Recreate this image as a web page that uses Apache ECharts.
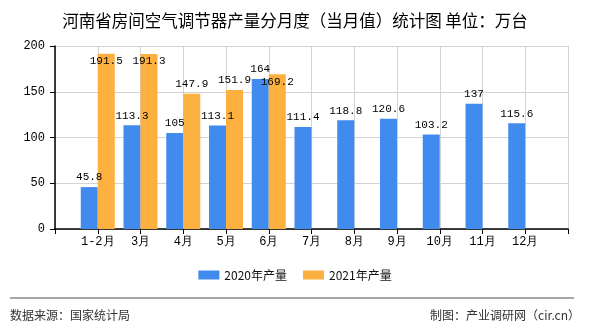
<!DOCTYPE html>
<html><head><meta charset="utf-8">
<script src="https://cdn.jsdelivr.net/npm/echarts@6/dist/echarts.min.js"></script>
<style>html,body{margin:0;padding:0;background:#fff}#c{width:590px;height:330px}</style>
</head><body><div id="c"></div>
<script>
const titleText = '河南省房间空气调节器产量分月度（当月值）统计图 单位：万台';
const months = ['1-2月','3月','4月','5月','6月','7月','8月','9月','10月','11月','12月'];
const seriesNames = ['2020年产量','2021年产量'];
const values2020 = [45.8,113.3,105,113.1,164,111.4,118.8,120.6,103.2,137,115.6];
const values2021 = [191.5,191.3,147.9,151.9,169.2];
const yTicks = [0,50,100,150,200];
const sourceText = '数据来源：国家统计局';
const creditText = '制图：产业调研网（cir.cn）';

// pad with an empty slot on both ends (the axis has an empty category at each end)
const cats = [''].concat(months, ['']);
function pad(arr){ const out=[null]; for(let i=0;i<months.length;i++) out.push(i<arr.length?arr[i]:null); out.push(null); return out; }
const insideLabels2021 = ['1-2月','3月','6月'];
const d2020 = pad(values2020);
const d2021 = pad(values2021).map((v,i)=> v==null?null:(insideLabels2021.includes(cats[i])?{value:v,label:{position:'insideTop',distance:2}}:v));

const mono = 'Liberation Mono';
const chart = echarts.init(document.getElementById('c'));
chart.setOption({
  animation:false,
  title:{text:titleText,left:'center',top:7,textStyle:{fontSize:16.5,fontWeight:'normal',color:'#000',fontFamily:'Noto Sans CJK SC'}},
  legend:{data:seriesNames,bottom:44,left:'center',itemWidth:21,itemHeight:9,itemGap:16,
    textStyle:{fontSize:12,color:'#111',fontFamily:'Noto Sans CJK SC'},icon:'rect'},
  grid:{left:55,right:22,top:46,bottom:101},
  xAxis:{type:'category',data:cats,boundaryGap:false,
    axisLine:{lineStyle:{color:'#000',width:1.5}},
    axisTick:{show:true,length:5,lineStyle:{color:'#000'}},
    axisLabel:{color:'#000',fontSize:12,fontFamily:mono,margin:7,interval:0},
    splitLine:{show:true,lineStyle:{color:'#d3d3d3'}}},
  yAxis:{type:'value',min:yTicks[0],max:yTicks[yTicks.length-1],interval:50,
    axisLine:{show:true,lineStyle:{color:'#000',width:1.5}},
    axisTick:{show:true,length:5,lineStyle:{color:'#000'}},
    axisLabel:{color:'#000',fontSize:12,fontFamily:mono,margin:10},
    splitLine:{lineStyle:{color:'#d3d3d3'}}},
  series:[
    {name:seriesNames[0],type:'bar',data:d2020,barWidth:17,barGap:'0%',
      itemStyle:{color:'#428bee'},
      label:{show:true,position:'top',distance:4,color:'#000',fontSize:11,fontFamily:mono}},
    {name:seriesNames[1],type:'bar',data:d2021,barWidth:17,
      itemStyle:{color:'#fbb040'},
      label:{show:true,position:'top',distance:4,color:'#000',fontSize:11,fontFamily:mono}}
  ],
  graphic:[
    {type:'line',shape:{x1:10,y1:298,x2:574,y2:298},style:{stroke:'#888',lineWidth:1.5}},
    {type:'text',left:10,top:309,style:{text:sourceText,fontSize:12,fill:'#333',fontFamily:'Noto Sans CJK SC'}},
    {type:'text',right:10,top:309,style:{text:creditText,fontSize:12,fill:'#333',fontFamily:'Noto Sans CJK SC'}}
  ]
});
</script></body></html>
